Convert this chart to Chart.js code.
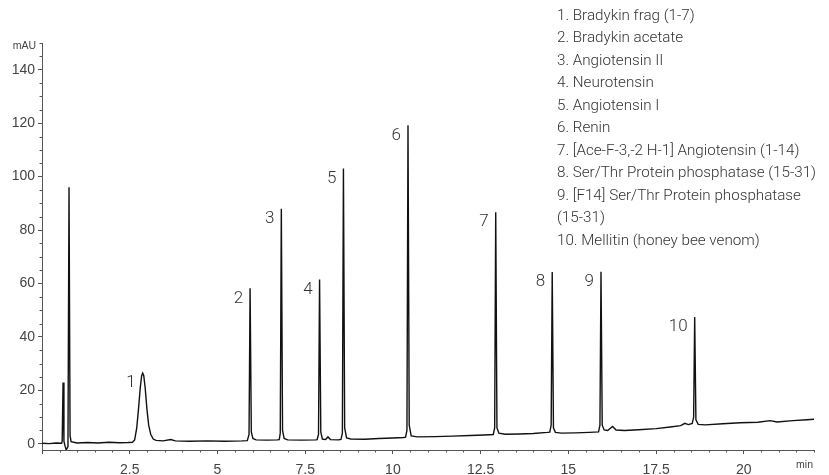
<!DOCTYPE html>
<html><head><meta charset="utf-8">
<script src="https://cdn.jsdelivr.net/npm/chart.js@4/dist/chart.umd.min.js"></script>
<style>html,body{margin:0;padding:0;background:#fff;overflow:hidden}#wrap{position:relative;width:829px;height:475px}</style>
</head><body><div id="wrap"><canvas id="c" width="829" height="475"></canvas></div>
<script>
// Retention time (min)
const timeMin = [
 0.00,0.20,0.40,0.56,0.575,0.60,0.625,0.65,0.69,0.74,0.77,0.80,0.83,
 1.00,1.30,1.60,1.90,2.20,2.45,
 2.58,2.64,2.70,2.75,2.80,2.84,2.87,2.90,2.94,2.99,3.04,3.10,3.17,3.25,
 3.45,3.67,3.80,4.20,4.70,5.20,5.70,
 5.85,5.90,5.93,5.965,6.01,
 6.10,6.40,6.70,
 6.76,6.79,6.82,6.855,6.90,
 7.00,7.40,7.80,
 7.84,7.88,7.91,7.945,7.99,
 8.08,8.15,8.22,8.45,
 8.52,8.56,8.59,8.625,8.68,
 8.80,9.20,9.60,10.00,10.30,
 10.36,10.40,10.43,10.465,10.52,
 10.70,11.20,11.70,12.20,12.60,
 12.86,12.90,12.93,12.965,13.02,
 13.20,13.60,14.00,14.40,
 14.47,14.51,14.54,14.575,14.63,
 14.80,15.20,15.60,
 15.86,15.90,15.93,15.965,16.02,
 16.12,16.26,16.36,16.60,17.00,17.50,17.90,18.20,18.32,18.42,
 18.53,18.57,18.60,18.635,18.70,
 18.90,19.40,19.90,20.40,20.75,20.95,21.40,21.80,22.00
];
// Absorbance (mAU)
const signalMau = [
 0.2,0.1,0.3,0.2,1.0,23,1.0,-0.5,-2.3,-1.0,96,3.0,0.8,
 0.3,0.5,0.3,0.6,0.4,0.5,
 0.6,1.5,6,13,21,25.5,26.5,25.5,21,13,7,3.5,1.8,1.3,
 1.1,1.6,1.1,1.0,1.1,1.0,1.1,
 1.2,3.5,58.2,4.5,2.0,
 1.5,1.4,1.5,
 1.6,4,88,5,2.0,
 1.5,1.4,1.5,
 1.6,3.5,61.5,4.5,1.8,
 1.6,2.6,1.6,1.5,
 1.7,4,103,6,2.2,
 1.8,1.7,2.0,2.2,2.4,
 2.5,5,119.2,7,3.0,
 2.6,2.7,2.9,3.1,3.3,
 3.5,6,86.7,6,4.0,
 3.6,3.7,3.9,4.3,
 4.4,7,64.3,6,4.3,
 4.0,4.1,4.3,
 4.5,7,64.4,7,5.2,
 5.0,6.5,5.2,5.0,5.3,5.7,6.3,6.8,7.7,7.2,
 7.6,10,47.5,9,7.3,
 7.1,7.5,7.9,8.1,8.7,8.2,8.7,9.0,9.2
];
const peakNumbers = ['1','2','3','4','5','6','7','8','9','10'];
const peakTimes = [2.87,5.93,6.82,7.91,8.59,10.43,12.93,14.54,15.93,18.60];
const peakTops = [26.5,58.2,88.0,61.5,103,119.2,86.7,64.3,64.4,47.5];
const legendItems = [
 '1. Bradykin frag (1-7)',
 '2. Bradykin acetate',
 '3. Angiotensin II',
 '4. Neurotensin',
 '5. Angiotensin I',
 '6. Renin',
 '7. [Ace-F-3,-2 H-1] Angiotensin (1-14)',
 '8. Ser/Thr Protein phosphatase (15-31)',
 '9. [F14] Ser/Thr Protein phosphatase',
 '(15-31)',
 '10. Mellitin (honey bee venom)'
];
const yUnit = 'mAU';
const xUnit = 'min';

const axisColor = '#555';
const tickFont = {family:'Liberation Sans', size:14};

const extras = {
  id:'extras',
  afterDraw(chart){
    const ctx = chart.ctx, xs = chart.scales.x, ys = chart.scales.y, ca = chart.chartArea;
    ctx.save();
    ctx.strokeStyle = axisColor; ctx.lineWidth = 1;
    ctx.beginPath();
    for (let k = 1; k * 0.5 <= 22; k++) {
      if (k % 5 === 0) continue;
      const px = Math.round(xs.getPixelForValue(k * 0.5)) + 0.5;
      ctx.moveTo(px, ca.bottom); ctx.lineTo(px, ca.bottom + 2.5);
    }
    for (let k = 1; k * 5 <= 150; k++) {
      if (k % 4 === 0) continue;
      const py = Math.round(ys.getPixelForValue(k * 5)) + 0.5;
      ctx.moveTo(ca.left, py); ctx.lineTo(ca.left - 2.5, py);
    }
    ctx.stroke();
    ctx.fillStyle = '#333';
    ctx.font = '300 17px Roboto';
    ctx.textAlign = 'right'; ctx.textBaseline = 'middle';
    peakNumbers.forEach((n, i) => {
      ctx.fillText(n, xs.getPixelForValue(peakTimes[i]) - 7, ys.getPixelForValue(peakTops[i]) + 10);
    });
    ctx.font = '300 15.2px Roboto';
    ctx.textAlign = 'left';
    legendItems.forEach((s, i) => ctx.fillText(s, 557, 16 + i * 22.5));
    ctx.fillStyle = '#444';
    ctx.font = '10.5px Liberation Sans';
    ctx.textAlign = 'right';
    ctx.fillText(yUnit, 36, 46);
    ctx.fillText(xUnit, 813, 465);
    ctx.restore();
  }
};

new Chart(document.getElementById('c'), {
  type:'line',
  data:{datasets:[{
    data: timeMin.map((t, i) => ({x:t, y:signalMau[i]})),
    borderColor:'#111', borderWidth:1.4, pointRadius:0, tension:0, fill:false
  }]},
  options:{
    responsive:false, animation:false, devicePixelRatio:1,
    layout:{padding:{top:43, right:15, left:0, bottom:0}},
    plugins:{legend:{display:false}, tooltip:{enabled:false}},
    scales:{
      x:{type:'linear', position:'bottom', min:0, max:22,
        grid:{drawOnChartArea:false, drawTicks:true, tickLength:4, tickColor:axisColor},
        border:{display:true, color:axisColor, width:1},
        ticks:{stepSize:2.5, includeBounds:false, autoSkip:false, maxRotation:0, padding:8, color:'#444', font:tickFont,
          callback:v => v === 0 ? '' : String(v)},
        afterFit:s => { s.height = 25; }
      },
      y:{type:'linear', position:'left', min:-2.3, max:150,
        grid:{drawOnChartArea:false, drawTicks:true, tickLength:4, tickColor:axisColor},
        border:{display:true, color:axisColor, width:1},
        ticks:{stepSize:20, includeBounds:false, padding:3, color:'#444', font:tickFont,
          callback:v => String(v)},
        afterFit:s => { s.width = 42; }
      }
    }
  },
  plugins:[extras]
});
</script></body></html>
